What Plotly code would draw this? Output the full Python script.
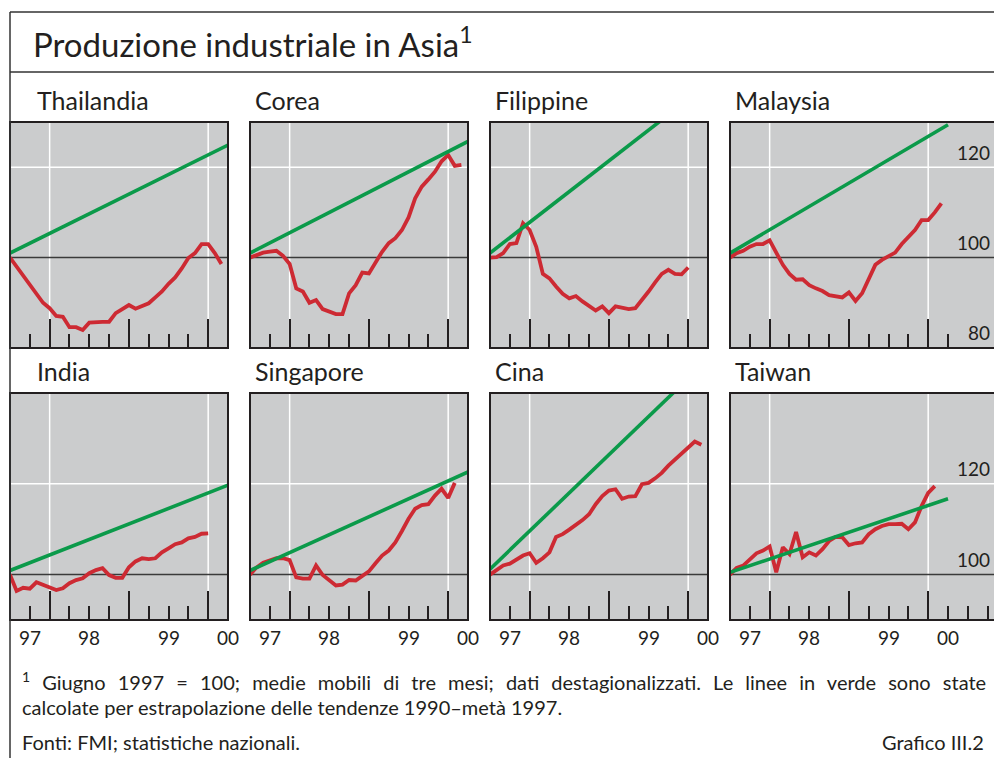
import plotly.graph_objects as go

# ---------------- data (index, June 1997 = 100; monthly, 3-month moving averages) ----------------
countries = ["Thailandia", "Corea", "Filippine", "Malaysia",
             "India", "Singapore", "Cina", "Taiwan"]

thailandia = [100.0, 98.0, 96.2, 94.2, 92.1, 90.0, 88.8, 87.1, 86.9, 84.6, 84.6, 84.0,
              85.6, 85.8, 85.8, 85.8, 87.7, 88.6, 89.5, 88.7, 89.3, 89.9, 91.2, 92.5,
              94.2, 95.6, 97.6, 99.9, 101.0, 103.0, 103.0, 101.0, 98.6]
corea = [100.0, 100.6, 101.1, 101.3, 101.5, 100.4, 98.6, 93.2, 92.5, 90.0, 90.6, 88.6,
         88.0, 87.5, 87.5, 92.1, 93.9, 96.7, 96.5, 99.1, 101.3, 103.2, 104.3, 106.1,
         108.9, 113.1, 115.7, 117.3, 119.0, 121.3, 122.7, 120.3, 120.5]
filippine = [100.0, 100.1, 101.0, 103.0, 103.2, 107.6, 106.1, 102.4, 96.4, 95.4, 93.6, 92.0,
             91.0, 91.5, 90.3, 89.4, 88.3, 89.2, 87.7, 89.2, 88.9, 88.6, 88.8, 90.5,
             92.5, 94.5, 96.4, 97.3, 96.4, 96.3, 97.8]
malaysia = [100.0, 101.0, 101.5, 102.4, 103.0, 103.0, 103.8, 101.3, 98.4, 96.4, 95.1, 95.2,
            93.9, 93.2, 92.6, 91.7, 91.5, 91.2, 92.3, 90.4, 92.1, 95.1, 98.4, 99.5,
            100.2, 101.1, 103.0, 104.6, 106.1, 108.3, 108.3, 110.0, 112.0]
india = [100.0, 96.4, 97.1, 96.9, 98.3, 97.7, 97.2, 96.6, 97.0, 98.1, 98.8, 99.2,
         100.3, 101.0, 101.4, 99.9, 99.3, 99.3, 101.6, 102.9, 103.6, 103.4, 103.6, 104.9,
         105.8, 106.7, 107.1, 108.0, 108.3, 109.0, 109.1]
singapore = [100.0, 101.6, 102.6, 103.2, 103.6, 103.6, 103.2, 99.4, 99.1, 99.1, 102.0, 99.9,
             98.7, 97.6, 97.8, 98.8, 98.7, 99.6, 100.7, 102.5, 104.2, 105.3, 107.1, 109.6,
             112.3, 114.5, 115.3, 115.5, 117.4, 118.9, 116.9, 120.2]
cina = [100.0, 101.1, 102.0, 102.4, 103.4, 104.2, 104.7, 102.6, 103.6, 104.9, 108.3, 108.9,
        109.9, 110.9, 112.0, 113.3, 115.5, 117.3, 118.5, 118.8, 116.7, 117.2, 117.3, 119.9,
        120.2, 121.2, 122.4, 124.0, 125.3, 126.8, 128.1, 129.3, 128.6]
taiwan = [100.0, 101.5, 102.0, 103.3, 104.7, 105.3, 106.2, 100.5, 106.0, 104.5, 109.4, 103.8,
          104.9, 104.2, 105.6, 107.4, 108.3, 108.2, 106.5, 106.9, 107.1, 108.9, 110.0, 110.7,
          111.1, 111.1, 111.2, 110.0, 111.5, 115.1, 118.0, 119.5]

# green lines: extrapolated 1990-mid-1997 trend, value at start and at end of the panel
trend_start = [101.0, 101.0, 101.0, 101.0, 100.9, 100.9, 101.2, 100.5]
trend_end = [124.9, 125.7, 138.4, 129.4, 119.7, 122.6, 147.4, 116.7]

series = [thailandia, corea, filippine, malaysia, india, singapore, cina, taiwan]

x_first = 1997.5           # first month shown (June 1997)
x_trend_end = 2000.25
year_label_pos = [1997.75, 1998.5, 1999.5, 2000.25]
year_labels = ["97", "98", "99", "00"]
year_ticks = [1998, 1999, 2000]
quarter_ticks = [1997.75, 1998.25, 1998.5, 1998.75, 1999.25, 1999.5, 1999.75]
quarter_ticks_extra_top = [2000.25]
quarter_ticks_extra_bottom = [2000.25, 2000.5, 2000.75]
white_vlines = [1998, 2000]
top_range = [80, 130]
bottom_range = [90, 140]
top_labels = [120, 100, 80]
bottom_labels = [120, 100]

# ---------------- layout geometry (pixels) ----------------
W, H = 994, 758
RED = "#cd2a33"
GREEN = "#0b9a4a"
DARK = "#231f20"
BG = "#cbcccd"
FONT = "Lato, 'Open Sans', sans-serif"

panel_left = [10, 250, 490, 730]
panel_w = 218
row_tb = [(122, 348), (393, 620)]


def px(x):
    return x / W


def py(y):
    return 1 - y / H


fig = go.Figure()
shapes = []
annotations = []

for k, name in enumerate(countries):
    row, col = divmod(k, 4)
    idx = "" if k == 0 else str(k + 1)
    xa, ya = "x" + idx, "y" + idx
    left = panel_left[col]
    right = W if col == 3 else left + panel_w
    x_end = 2000.25 + (W - left - panel_w) / (panel_w / 2.75) if col == 3 else 2000.25
    top, bot = row_tb[row]
    yr = top_range if row == 0 else bottom_range

    minor_vals = list(quarter_ticks)
    if col == 3:
        minor_vals += quarter_ticks_extra_top if row == 0 else quarter_ticks_extra_bottom

    fig.update_layout(**{
        "xaxis" + idx: dict(domain=[px(left), px(right)], range=[x_first, x_end],
                            anchor=ya, showgrid=False, zeroline=False, showline=False,
                            tickmode="array", tickvals=year_ticks, ticks="inside",
                            ticklen=29, tickwidth=1.5, tickcolor=DARK,
                            showticklabels=False, fixedrange=True,
                            minor=dict(tickmode="array", tickvals=minor_vals,
                                       ticks="inside", ticklen=14, tickwidth=1.5,
                                       tickcolor=DARK, showgrid=False)),
        "yaxis" + idx: dict(domain=[py(bot), py(top)], range=yr, anchor=xa,
                            showgrid=False, zeroline=False, showline=False,
                            showticklabels=False, ticks="", fixedrange=True),
    })

    vals = series[k]
    xs = [x_first + i / 12 for i in range(len(vals))]
    fig.add_trace(go.Scatter(x=xs, y=vals, mode="lines", xaxis=xa, yaxis=ya,
                             line=dict(color=RED, width=3.8), showlegend=False,
                             hoverinfo="skip"))
    fig.add_trace(go.Scatter(x=[x_first, x_trend_end], y=[trend_start[k], trend_end[k]],
                             mode="lines", xaxis=xa, yaxis=ya,
                             line=dict(color=GREEN, width=3.6), showlegend=False,
                             hoverinfo="skip"))

    # grid lines
    for v in white_vlines:
        shapes.append(dict(type="line", xref=xa, yref=ya + " domain", x0=v, x1=v, y0=0, y1=1,
                           line=dict(color="white", width=1.5), layer="below"))
    shapes.append(dict(type="line", xref=xa + " domain", yref=ya, x0=0, x1=1, y0=120, y1=120,
                       line=dict(color="white", width=1.5), layer="below"))
    shapes.append(dict(type="line", xref=xa + " domain", yref=ya, x0=0, x1=1, y0=100, y1=100,
                       line=dict(color="#3a3a3a", width=1.5), layer="below"))
    # panel frame
    shapes.append(dict(type="rect", xref="paper", yref="paper",
                       x0=px(left), x1=px(right + (6 if col == 3 else 0)),
                       y0=py(bot), y1=py(top),
                       line=dict(color=DARK, width=2), fillcolor="rgba(0,0,0,0)",
                       layer="above"))
    # panel title
    title_x = 35 if col == 0 else left + 3
    annotations.append(dict(text=name, xref="paper", yref="paper",
                            x=px(title_x), y=py(top - 22),
                            xanchor="left", yanchor="middle", showarrow=False,
                            font=dict(size=25, color=DARK, family=FONT)))
    # year labels under bottom row
    if row == 1:
        for pos, lab in zip(year_label_pos, year_labels):
            annotations.append(dict(text=lab, xref=xa, yref="paper", x=pos, y=py(637),
                                    xanchor="center", yanchor="middle", showarrow=False,
                                    font=dict(size=19, color=DARK, family=FONT)))
    # right-hand scale labels
    if col == 3:
        for v in (top_labels if row == 0 else bottom_labels):
            annotations.append(dict(text=str(v), xref="paper", yref=ya, x=px(992), y=v,
                                    xanchor="right", yanchor="middle", yshift=15,
                                    showarrow=False,
                                    font=dict(size=19, color=DARK, family=FONT)))

# outer frame and header separator
shapes.append(dict(type="line", xref="paper", yref="paper", x0=px(10), x1=1.01,
                   y0=py(12), y1=py(12), line=dict(color="#333", width=1.5)))
shapes.append(dict(type="line", xref="paper", yref="paper", x0=px(10), x1=px(10),
                   y0=py(12), y1=-0.01, line=dict(color="#333", width=1.5)))
shapes.append(dict(type="line", xref="paper", yref="paper", x0=px(10), x1=1.01,
                   y0=py(72), y1=py(72), line=dict(color="#333", width=1.5)))

# header title
annotations.append(dict(text="Produzione industriale in Asia<sup>1</sup>", xref="paper",
                        yref="paper", x=px(31), y=py(42), xanchor="left", yanchor="middle",
                        showarrow=False, font=dict(size=33, color=DARK, family=FONT)))

# footnotes
foot_font = dict(size=20, color=DARK, family=FONT)
annotations.append(dict(text='<span style="word-spacing:7px"><sup>1</sup> Giugno 1997 = 100; '
                             'medie mobili di tre mesi; dati destagionalizzati. '
                             'Le linee in verde sono state</span>',
                        xref="paper", yref="paper", x=px(20), y=py(681), xanchor="left",
                        yanchor="middle", showarrow=False, font=foot_font))
annotations.append(dict(text="calcolate per estrapolazione delle tendenze 1990–metà 1997.",
                        xref="paper", yref="paper", x=px(20), y=py(707), xanchor="left",
                        yanchor="middle", showarrow=False, font=foot_font))
annotations.append(dict(text="Fonti: FMI; statistiche nazionali.",
                        xref="paper", yref="paper", x=px(20), y=py(742), xanchor="left",
                        yanchor="middle", showarrow=False, font=foot_font))
annotations.append(dict(text="Grafico III.2",
                        xref="paper", yref="paper", x=px(986), y=py(742), xanchor="right",
                        yanchor="middle", showarrow=False, font=foot_font))

fig.update_layout(width=W, height=H, margin=dict(l=0, r=0, t=0, b=0),
                  paper_bgcolor="white", plot_bgcolor=BG,
                  shapes=shapes, annotations=annotations, showlegend=False,
                  font=dict(family=FONT, color=DARK))

fig.write_html("out.html", config={"displayModeBar": False},
               post_script="document.body.style.margin='0';"
                           "document.body.style.overflow='hidden';")
